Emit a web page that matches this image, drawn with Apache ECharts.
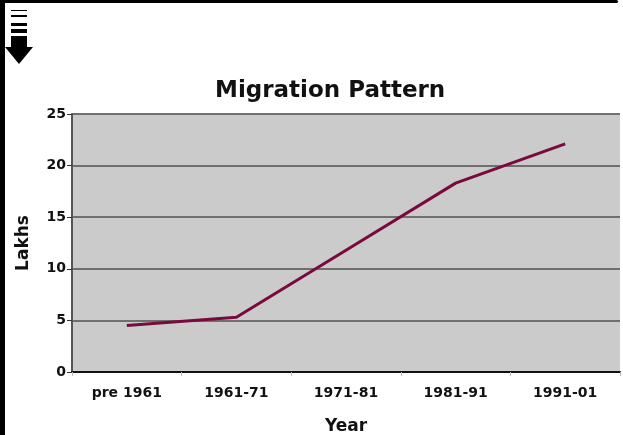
<!DOCTYPE html>
<html lang="en">
<head>
  <meta charset="UTF-8">
  <title>Migration Pattern</title>
  <style>
    body { margin: 0; padding: 0; background: #fff; }
    #chart-container { width: 623px; height: 435px; }
  </style>
</head>
<body>
  <div id="chart-container"></div>
  <script src="https://cdn.jsdelivr.net/npm/echarts@6/dist/echarts.min.js"></script>
  <script>
    var years = ['pre 1961', '1961-71', '1971-81', '1981-91', '1991-01'];
    var migrants = [4.5, 5.3, 11.8, 18.3, 22.1];
    var yTicks = [0, 5, 10, 15, 20, 25];

    var font = 'DejaVu Sans, Verdana, sans-serif';
    var chart = echarts.init(document.getElementById('chart-container'));

    var option = {
      backgroundColor: '#fff',
      animation: false,
      title: {
        text: 'Migration Pattern',
        left: 215,
        top: 75,
        padding: [5, 0, 5, 0],
        textStyle: { fontFamily: font, fontWeight: 'bold', fontSize: 23, color: '#111' }
      },
      grid: { left: 72, right: 3, top: 114, bottom: 63, outerBoundsMode: 'none' },
      xAxis: {
        type: 'category',
        data: years,
        boundaryGap: true,
        name: 'Year',
        nameLocation: 'middle',
        nameGap: 46,
        nameTextStyle: { fontFamily: font, fontWeight: 'bold', fontSize: 17, color: '#111' },
        axisLine: { lineStyle: { color: '#111', width: 2 } },
        axisTick: { show: true, length: 4, lineStyle: { color: '#bbb' } },
        axisLabel: { fontFamily: font, fontWeight: 'bold', fontSize: 14, color: '#111', margin: 14 }
      },
      yAxis: {
        type: 'value',
        min: 0,
        max: 25,
        interval: 5,
        name: 'Lakhs',
        nameLocation: 'middle',
        nameGap: 40,
        nameRotate: 90,
        nameTextStyle: { fontFamily: font, fontWeight: 'bold', fontSize: 17, color: '#111' },
        axisLine: { show: true, lineStyle: { color: '#555', width: 2 } },
        axisTick: { show: true, length: 5, lineStyle: { color: '#333' } },
        axisLabel: {
          fontFamily: font, fontWeight: 'bold', fontSize: 14, color: '#111', margin: 6,
          formatter: function (v) { return yTicks.indexOf(v) >= 0 ? String(v) : ''; }
        },
        splitLine: { show: true, lineStyle: { color: '#6f6f6f', width: 2 } },
        splitArea: { show: true, areaStyle: { color: ['#cbcbcb', '#cbcbcb'] } }
      },
      series: [{
        type: 'line',
        data: migrants,
        symbol: 'none',
        lineStyle: { color: '#7a0a3e', width: 3 }
      }],
      graphic: [
        // page frame: left bar and top bar with rounded end
        { type: 'rect', shape: { x: 0, y: 0, width: 5, height: 435 }, style: { fill: '#000' } },
        { type: 'rect', shape: { x: 0, y: 0, width: 618, height: 3, r: [0, 3, 3, 0] }, style: { fill: '#000' } },
        // scroll-down icon
        { type: 'rect', shape: { x: 11, y: 10, width: 16, height: 1 }, style: { fill: '#000' } },
        { type: 'rect', shape: { x: 11, y: 15, width: 16, height: 2 }, style: { fill: '#000' } },
        { type: 'rect', shape: { x: 11, y: 23, width: 16, height: 3 }, style: { fill: '#000' } },
        { type: 'rect', shape: { x: 11, y: 29, width: 16, height: 4 }, style: { fill: '#000' } },
        { type: 'rect', shape: { x: 11, y: 36, width: 16, height: 12 }, style: { fill: '#000' } },
        { type: 'polygon', shape: { points: [[5, 47], [33, 47], [19, 64]] }, style: { fill: '#000' } }
      ]
    };

    chart.setOption(option);
  </script>
</body>
</html>
